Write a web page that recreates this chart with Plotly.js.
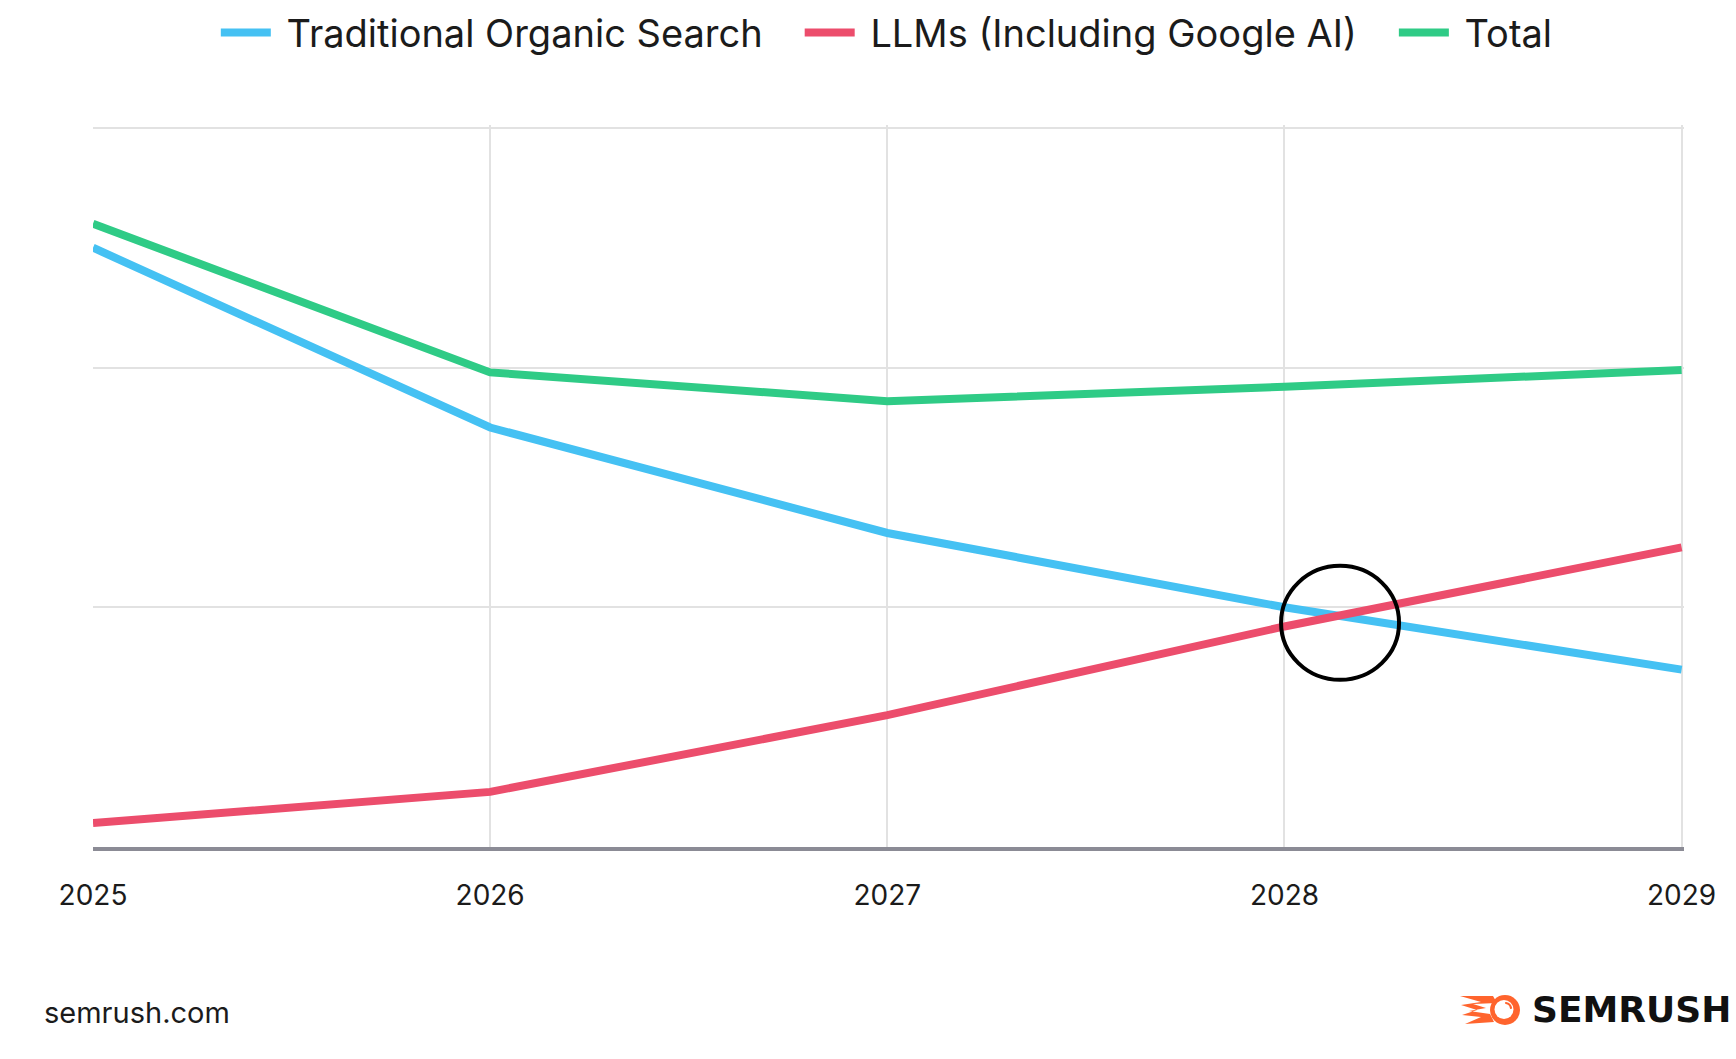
<!DOCTYPE html>
<html>
<head>
<meta charset="utf-8">
<script src="https://cdn.plot.ly/plotly-3.0.1.min.js"></script>
<style>html,body{margin:0;padding:0;background:#fff;}#chart{width:1736px;height:1059px;}</style>
</head>
<body>
<div id="chart"></div>
<script>
// ---- data (relative share of traffic; gridlines every 1 unit) ----
var years = [2025, 2026, 2027, 2028, 2029];
var tickLabels = ["2025", "2026", "2027", "2028", "2029"];
var traditionalOrganic = [2.50, 1.75, 1.31, 1.00, 0.74];
var llms = [0.10, 0.23, 0.55, 0.92, 1.25];
var total = [2.60, 1.98, 1.86, 1.92, 1.99];
var seriesNames = ["Traditional Organic Search", "LLMs (Including Google AI)", "Total"];
var crossingYear = 2028.14;
var crossingValue = 0.935;

var fontFam = "Inter, 'Noto Sans', sans-serif";
var colors = ["#45C1F3", "#EC4D6C", "#2FCB86"];

var traces = [traditionalOrganic, llms, total].map(function (vals, i) {
  return {
    x: years, y: vals, name: "\u00A0" + seriesNames[i] + "\u00A0\u00A0\u00A0", type: "scatter", mode: "lines",
    line: { color: colors[i], width: 8, shape: "linear" },
    hoverinfo: "skip"
  };
});

var logoSvg = '<svg xmlns="http://www.w3.org/2000/svg" viewBox="0 0 64 34" width="64" height="34">' +
  '<path d="M1 3 L34 3 L38 10 L14 11 L27 15 L10 18 L31 21 L35 29 L6 31 L22 24 L3 22 L18 17 L2 12 L22 9 Z" fill="#FF642D"/>' +
  '<circle cx="46" cy="17" r="15" fill="#FF642D"/>' +
  '<circle cx="45" cy="16.5" r="9.5" fill="#ffffff"/>' +
  '<path d="M47 10 A6 6 0 0 1 52 15" stroke="#FF642D" stroke-width="2.2" fill="none" stroke-linecap="round"/>' +
  '</svg>';
var logoUri = "data:image/svg+xml;base64," + btoa(logoSvg);

var layout = {
  width: 1736, height: 1059,
  margin: { l: 93, r: 52, t: 125, b: 212, autoexpand: false },
  paper_bgcolor: "#ffffff", plot_bgcolor: "#ffffff",
  font: { family: fontFam, color: "#1b1b1b" },
  showlegend: true,
  legend: {
    orientation: "h", x: 0.509, xanchor: "center",
    yref: "container", y: 0.969, yanchor: "middle",
    font: { family: fontFam, size: 38, color: "#1b1b1b" },
    itemwidth: 50, traceorder: "normal"
  },
  xaxis: {
    range: [2025, 2029.006], tickvals: years, ticktext: tickLabels,
    showgrid: true, gridcolor: "#e2e2e2", gridwidth: 2,
    zeroline: false, showline: true, linecolor: "#8b8b95", linewidth: 4,
    ticks: "", ticklabelstandoff: 20,
    tickfont: { family: fontFam, size: 28, color: "#1b1b1b" },
    fixedrange: true
  },
  yaxis: {
    range: [0, 3.012], tickvals: [1, 2, 3], showticklabels: false,
    showgrid: true, gridcolor: "#e2e2e2", gridwidth: 2,
    zeroline: false, showline: false, ticks: "", fixedrange: true
  },
  shapes: [{
    type: "circle", xref: "x", yref: "y",
    xsizemode: "pixel", ysizemode: "pixel",
    xanchor: crossingYear, yanchor: crossingValue,
    x0: -59, x1: 59, y0: -57, y1: 57,
    line: { color: "#000000", width: 4 }
  }],
  annotations: [
    { text: "semrush.com", xref: "paper", yref: "paper", x: -0.032, y: -0.229,
      xanchor: "left", yanchor: "middle", showarrow: false,
      font: { family: fontFam, size: 29, color: "#1b1b1b" } },
    { text: "<b>SEMRUSH</b>", xref: "paper", yref: "paper", x: 0.9035, y: -0.2255,
      xanchor: "left", yanchor: "middle", showarrow: false,
      font: { family: "'DejaVu Sans', sans-serif", size: 36, color: "#111111" } }
  ],
  images: [{
    source: logoUri, xref: "paper", yref: "paper",
    x: 0.8586, y: -0.2022, sizex: 0.0402, sizey: 0.0471,
    xanchor: "left", yanchor: "top", sizing: "stretch", layer: "above"
  }]
};

Plotly.newPlot("chart", traces, layout, { displayModeBar: false, staticPlot: true });
</script>
</body>
</html>
